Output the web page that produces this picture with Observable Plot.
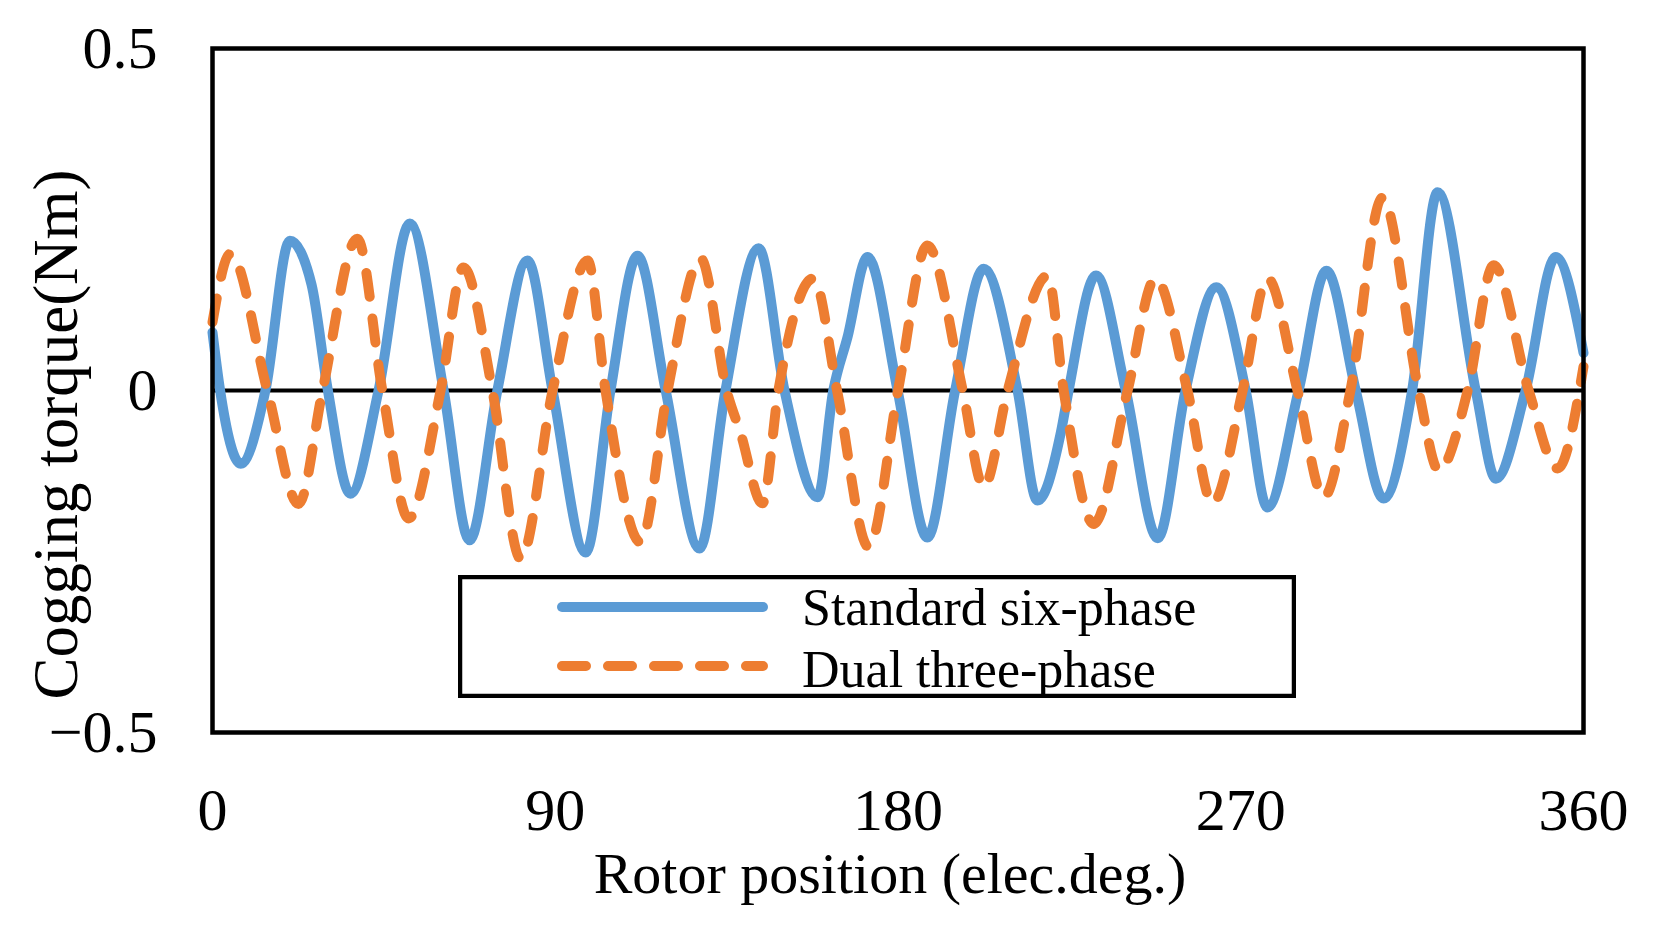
<!DOCTYPE html>
<html>
<head>
<meta charset="utf-8">
<script src="https://cdn.jsdelivr.net/npm/d3@7"></script>
<script src="https://cdn.jsdelivr.net/npm/@observablehq/plot@0.6"></script>
<style>
  html, body { margin: 0; padding: 0; background: white; }
  #wrap { position: relative; width: 1662px; height: 928px; }
  #legend { position: absolute; left: 458px; top: 575px; }
</style>
</head>
<body>
<div id="wrap"></div>
<script>
// ---- Data ----
const xTicks = [0, 90, 180, 270, 360];
const yTicks = [-0.5, 0, 0.5];
const xLabel = "Rotor position (elec.deg.)";
const yLabel = "Cogging torque(Nm)";
const seriesNames = ["Standard six-phase", "Dual three-phase"];

// Standard six-phase: rotor position (deg)
const sixX = [0, 2, 7.4, 13.9, 20.3, 26, 30.3, 36.2, 43.6, 51.8, 60.7, 67.5, 74.8, 82.7, 89.3, 98, 104.5, 111.6, 119, 127.9, 134.7, 143.4, 150.2, 158.9, 163, 166.7, 172, 179.9, 187.7, 195, 202.5, 211.4, 216.6, 222.7, 224.8, 232, 239.8, 248.2, 255.5, 263.6, 271.3, 277, 285.2, 292.5, 300.2, 307.5, 315, 321.7, 331.7, 337, 344.8, 352.7, 360];
// Standard six-phase: cogging torque (Nm)
const sixY = [0.085, 0, -0.107, 0, 0.219, 0.155, 0, -0.151, 0, 0.244, 0, -0.219, 0, 0.19, 0, -0.237, 0, 0.197, 0, -0.231, 0, 0.208, 0, -0.156, 0, 0.077, 0.195, 0, -0.215, 0, 0.178, 0, -0.161, -0.063, 0, 0.168, 0, -0.216, 0, 0.151, 0, -0.171, 0, 0.175, 0, -0.158, 0, 0.29, 0, -0.129, 0, 0.195, 0.055];

// Dual three-phase: rotor position (deg)
const dualX = [0, 4.7, 14.4, 22.6, 28.9, 38, 44.6, 51.5, 59.9, 65.9, 73.5, 80.9, 89.3, 98.5, 103.2, 112.4, 119.5, 128.2, 135, 138.7, 144.4, 148.6, 157.8, 164, 172.3, 180, 187.7, 197, 202.5, 208.8, 219.3, 223.5, 231.4, 240.3, 247.6, 256, 262.6, 270.5, 277, 284.9, 291.8, 298.8, 307.2, 316.7, 322, 329.6, 336.4, 345.6, 353.2, 360];
// Dual three-phase: cogging torque (Nm)
const dualY = [0.1, 0.2, 0, -0.166, 0, 0.222, 0, -0.187, 0, 0.18, 0, -0.246, 0, 0.19, 0, -0.222, 0, 0.193, 0, -0.063, -0.165, 0, 0.164, 0, -0.229, 0, 0.212, 0, -0.141, 0, 0.168, 0, -0.195, 0, 0.164, 0, -0.165, 0, 0.164, 0, -0.156, 0, 0.282, 0, -0.117, 0, 0.183, 0, -0.114, 0.035];

const colors = ["#5B9BD5", "#ED7D31"];

// ---- Tables built from the arrays ----
const six = sixX.map((x, i) => ({x, y: sixY[i]}));
const dual = dualX.map((x, i) => ({x, y: dualY[i]}));

const font = "'Liberation Serif', 'Times New Roman', serif";

const chart = Plot.plot({
  width: 1662,
  height: 928,
  marginLeft: 212,
  marginRight: 79,
  marginTop: 48,
  marginBottom: 196,
  style: {fontFamily: font, fontSize: "60px", color: "black", background: "white", overflow: "visible"},
  x: {domain: [0, 360], ticks: xTicks, tickSize: 0, tickPadding: 55, label: null},
  y: {domain: [-0.5, 0.5], ticks: yTicks, tickSize: 0, tickPadding: 55, label: null,
      tickFormat: d => String(d).replace("-", "\u2212")},
  marks: [
    Plot.ruleY([0], {stroke: "black", strokeWidth: 4}),
    Plot.line(six, {x: "x", y: "y", stroke: colors[0], strokeWidth: 10, curve: "monotone-x", strokeLinejoin: "round"}),
    Plot.line(dual, {x: "x", y: "y", stroke: colors[1], strokeWidth: 10, curve: "monotone-x", strokeDasharray: "24,22", strokeLinecap: "round", strokeLinejoin: "round"}),
    Plot.frame({stroke: "black", strokeWidth: 4.5}),
    Plot.text([yLabel], {text: d => d, frameAnchor: "left", textAnchor: "middle", lineAnchor: "middle",
      dx: -156, dy: 44, rotate: -90, fontSize: 63, fill: "black"}),
    Plot.text([xLabel], {text: d => d, frameAnchor: "bottom", textAnchor: "middle", lineAnchor: "middle",
      dx: -8, dy: 142, fontSize: 58, fill: "black"})
  ]
});

const wrap = document.getElementById("wrap");
wrap.appendChild(chart);

// ---- Legend (inside the plot frame) ----
const lw = 838, lh = 123;
const leg = d3.select(wrap).append("svg")
  .attr("id", "legend")
  .attr("width", lw)
  .attr("height", lh)
  .style("font-family", font);
leg.append("rect")
  .attr("x", 2).attr("y", 2).attr("width", lw - 4).attr("height", lh - 4)
  .attr("fill", "white").attr("stroke", "black").attr("stroke-width", 4.5);
const rows = [
  {name: seriesNames[0], color: colors[0], dash: null, ly: 32, ty: 50},
  {name: seriesNames[1], color: colors[1], dash: "24,22", ly: 91, ty: 112}
];
rows.forEach(r => {
  leg.append("line")
    .attr("x1", 104).attr("x2", 305).attr("y1", r.ly).attr("y2", r.ly)
    .attr("stroke", r.color).attr("stroke-width", 10)
    .attr("stroke-linecap", "round")
    .attr("stroke-dasharray", r.dash);
  leg.append("text")
    .attr("x", 344).attr("y", r.ty)
    .attr("font-size", 52)
    .attr("fill", "black")
    .text(r.name);
});
</script>
</body>
</html>
